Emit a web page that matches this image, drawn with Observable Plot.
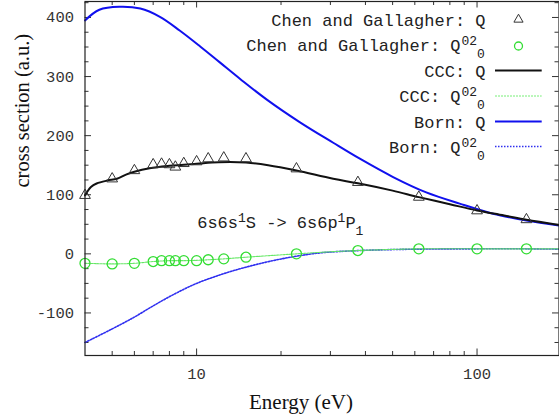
<!DOCTYPE html>
<html><head><meta charset="utf-8">
<script src="https://cdn.jsdelivr.net/npm/d3@7"></script>
<script src="https://cdn.jsdelivr.net/npm/@observablehq/plot@0.6"></script>
<style>body{margin:0;background:#fff} #chart{width:559px;height:420px}</style>
</head><body><div id="chart"></div>
<script>
// ---- data ----
const expEnergy = [4, 5, 6, 7, 7.5, 8, 8.4, 9, 10, 11, 12.5, 15, 22.7, 37.6, 62, 100, 150];
const expQ      = [99, 127, 141, 151, 152, 151, 147, 153, 156, 161, 162.5, 161, 144, 121, 96, 73, 58];
const expQ020   = [-16, -17, -16, -13, -11.5, -11.5, -11.5, -11.5, -11.5, -10, -8.5, -5.7, 0, 5.6, 8.5, 8.5, 8.5];

const cccQEnergy = [4, 4.2, 4.4, 4.8, 5.2, 5.6, 6, 6.8, 8, 10, 12, 15, 18, 22.7, 30.7, 37.6, 50, 62, 80, 100, 125, 150, 196];
const cccQ       = [99, 113, 119, 124, 127, 134, 139, 145, 149, 152.5, 155, 154.5, 150, 141, 127, 119.5, 107, 96, 84, 73.5, 65, 57.6, 49];

const cccQ020Energy = [4, 5, 6, 7, 8, 9, 10, 11, 12.5, 15, 22.7, 30, 37.6, 50, 62, 100, 150, 196];
const cccQ020       = [-16, -17, -16, -13, -11.5, -11.5, -11, -10, -8.5, -5.7, 0, 3.5, 5.6, 7.5, 8.5, 8.5, 8.5, 8.5];

const bornQEnergy = [4, 4.5, 5.3, 6.3, 7.4, 8.7, 10.3, 12.1, 14.3, 17.8, 23.3, 30.7, 38.2, 50.2, 65.9, 86.7, 114, 150, 196];
const bornQ       = [395, 413, 418, 415, 401, 378, 351, 324, 296, 261, 223, 188, 161, 130, 104, 85, 68, 56.5, 48];

const bornQ020Energy = [4, 5, 6, 7, 8.26, 10, 12.4, 15, 18.7, 22.7, 27.4, 37.6, 62, 100, 150, 196];
const bornQ020       = [-150, -127, -107, -88, -69, -50, -34, -22.5, -11.5, -4, 1.5, 5.5, 8, 8.5, 8.5, 8];

const xMajorTicks = [10, 100];
const xMinorTicks = [5, 6, 7, 8, 9, 20, 30, 40, 50, 60, 70, 80, 90];
const yMajorTicks = [-100, 0, 100, 200, 300, 400];

const legendText = ["Chen and Gallagher: Q", "Chen and Gallagher: Q", "CCC: Q", "CCC: Q", "Born: Q", "Born: Q"];
const legendSup  = ["", "02", "", "02", "", "02"];
const legendSub  = ["", "0", "", "0", "", "0"];
const annotationParts = ["6s6s", "1", "S -> 6s6p", "1", "P", "1"];
const annotationKind  = ["main", "sup", "main", "sup", "main", "sub"];
const xTitle = "Energy (eV)";
const yTitle = "cross section (a.u.)";

// ---- layout ----
const W = 559, H = 420, mL = 84.5, mR = 0.5, mT = 1, mB = 65;
const xDom = [4, 196], yDom = [-172, 427];
const plotW = W - mL - mR, plotH = H - mT - mB;
const decadePx = plotW / Math.log10(xDom[1] / xDom[0]);
const unitsPerPx = (yDom[1] - yDom[0]) / plotH;
const xPx = px => xDom[0] * Math.pow(10, (px - mL) / decadePx);
const yPx = py => yDom[1] - (py - mT) * unitsPerPx;
const mono = "Liberation Mono", serif = "Liberation Serif";
const FS = 17, FSS = 13, CW = 0.6 * FS, CWS = 0.6 * FSS;

const xTicks = [...xMajorTicks.map(v => ({v, L: 6.5})), ...xMinorTicks.map(v => ({v, L: 4}))];
const yMinor = d3.range(-150, 426, 25).filter(v => v % 100 !== 0);
const yTicks = [...yMajorTicks.map(v => ({v, L: 6.5})), ...yMinor.map(v => ({v, L: 4}))];

const zip = (xs, ys) => xs.map((x, i) => ({x, y: ys[i]}));
const exp = expEnergy.map((e, i) => ({e, q: expQ[i], q0: expQ020[i]}));

// legend
const rowCy = [20, 45.5, 71, 96.5, 122, 147.5];
const legendRows = legendText.map((t, i) => ({t, sup: legendSup[i], sub: legendSub[i], cy: rowCy[i]}));

// annotation pieces
let ax = 196.7;
const annot = annotationParts.map((t, i) => {
  const k = annotationKind[i];
  const p = {t, k, x: ax};
  ax += t.length * (k === "main" ? CW : CWS);
  return p;
});
const annCy = 222.5;

const tickStroke = "#333";
const blue = "#1010ee", dotBlue = "#3030f0", green = "#33dd33", lgreen = "#66e866";
const marks = [
  // ticks (inward, all four sides)
  Plot.ruleX(xTicks, {x: "v", y1: yDom[0], y2: d => yDom[0] + d.L * unitsPerPx, stroke: tickStroke, strokeWidth: 1}),
  Plot.ruleX(xTicks, {x: "v", y1: yDom[1], y2: d => yDom[1] - d.L * unitsPerPx, stroke: tickStroke, strokeWidth: 1}),
  Plot.ruleY(yTicks, {y: "v", x1: xDom[0], x2: d => xDom[0] * Math.pow(10, d.L / decadePx), stroke: tickStroke, strokeWidth: 1}),
  Plot.ruleY(yTicks, {y: "v", x1: xDom[1], x2: d => xDom[1] / Math.pow(10, d.L / decadePx), stroke: tickStroke, strokeWidth: 1}),
  // curves
  Plot.line(zip(bornQ020Energy, bornQ020), {x: "x", y: "y", curve: "catmull-rom", stroke: dotBlue, strokeWidth: 1.6, strokeDasharray: "1.5,1.5"}),
  Plot.line(zip(cccQ020Energy, cccQ020), {x: "x", y: "y", curve: "catmull-rom", stroke: lgreen, strokeWidth: 1.1, strokeDasharray: "2,1"}),
  Plot.line(zip(bornQEnergy, bornQ), {x: "x", y: "y", curve: "catmull-rom", stroke: blue, strokeWidth: 2}),
  Plot.line(zip(cccQEnergy, cccQ), {x: "x", y: "y", curve: "catmull-rom", stroke: "#111", strokeWidth: 2}),
  // experimental points
  Plot.dot(exp, {x: "e", y: "q", symbol: "triangle", r: 4, stroke: "#333", strokeWidth: 1, fill: "none"}),
  Plot.dot(exp, {x: "e", y: "q0", symbol: "circle", r: 5, stroke: green, strokeWidth: 1.3, fill: "none"}),
  // legend text
  Plot.text(legendRows, {x: d => xPx(d.sup ? 460 : 485), y: d => yPx(d.cy), text: "t", textAnchor: "end", lineAnchor: "middle", fontFamily: mono, fontSize: FS, fill: "#222"}),
  Plot.text(legendRows.filter(d => d.sup), {x: () => xPx(461), y: d => yPx(d.cy - 5), text: "sup", textAnchor: "start", lineAnchor: "middle", fontFamily: mono, fontSize: FSS, fill: "#222"}),
  Plot.text(legendRows.filter(d => d.sub), {x: () => xPx(461 + 2 * CWS), y: d => yPx(d.cy + 7.5), text: "sub", textAnchor: "start", lineAnchor: "middle", fontFamily: mono, fontSize: FSS, fill: "#222"}),
  // legend samples
  Plot.dot([legendRows[0]], {x: () => xPx(518), y: d => yPx(d.cy - 1), symbol: "triangle", r: 3.4, stroke: "#333", strokeWidth: 1, fill: "none"}),
  Plot.dot([legendRows[1]], {x: () => xPx(518), y: d => yPx(d.cy), symbol: "circle", r: 4, stroke: green, strokeWidth: 1.3, fill: "none"}),
  Plot.ruleY([legendRows[2]], {y: d => yPx(d.cy - 1), x1: () => xPx(495), x2: () => xPx(541.7), stroke: "#111", strokeWidth: 2}),
  Plot.ruleY([legendRows[3]], {y: d => yPx(d.cy - 1), x1: () => xPx(495), x2: () => xPx(541.7), stroke: "#77ee77", strokeWidth: 1, strokeDasharray: "2,1"}),
  Plot.ruleY([legendRows[4]], {y: d => yPx(d.cy - 1), x1: () => xPx(495), x2: () => xPx(541.7), stroke: blue, strokeWidth: 2}),
  Plot.ruleY([legendRows[5]], {y: d => yPx(d.cy - 1.5), x1: () => xPx(495), x2: () => xPx(541.7), stroke: dotBlue, strokeWidth: 1.5, strokeDasharray: "1.5,1.5"}),
  // annotation
  Plot.text(annot, {x: d => xPx(d.x), y: d => yPx(annCy + (d.k === "sup" ? -5 : d.k === "sub" ? 7.5 : 0)), text: "t", textAnchor: "start", lineAnchor: "middle", fontFamily: mono, fontSize: d => d.k === "main" ? FS : FSS, fill: "#222"}),
  // axis titles
  Plot.text([xTitle], {frameAnchor: "bottom", dx: 300.5 - (mL + plotW / 2), dy: 46.5, lineAnchor: "middle", fontFamily: serif, fontSize: 21, fill: "#111"}),
  Plot.text([yTitle], {frameAnchor: "left", rotate: -90, dx: 21.5 - mL, dy: 187 - (mT + plotH / 2), lineAnchor: "middle", fontFamily: serif, fontSize: 20.5, fill: "#111"}),
  Plot.frame({stroke: "#222", strokeWidth: 1.2})
];

const chart = Plot.plot({
  width: W, height: H,
  marginLeft: mL, marginRight: mR, marginTop: mT, marginBottom: mB,
  x: {type: "log", domain: xDom, ticks: xMajorTicks, tickFormat: d => String(d), tickSize: 0, tickPadding: 12, label: null},
  y: {domain: yDom, ticks: yMajorTicks, tickFormat: d => String(d), tickSize: 0, tickPadding: 11, label: null},
  style: {fontFamily: mono, fontSize: "15.5px", color: "#333", background: "#fff"},
  marks
});
document.getElementById("chart").appendChild(chart);
</script>
</body></html>
